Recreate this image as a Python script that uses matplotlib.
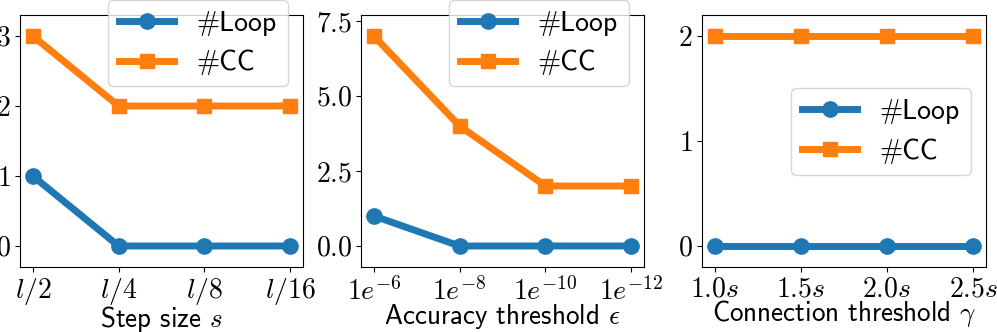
import matplotlib
matplotlib.use("Agg")
import matplotlib.pyplot as plt
from matplotlib.ticker import FixedLocator, FixedFormatter

plt.rcParams['font.family'] = ['cmss10', 'DejaVu Sans']
plt.rcParams['mathtext.fontset'] = 'cm'
plt.rcParams['axes.unicode_minus'] = False

# data
step_labels = [r'$l/2$', r'$l/4$', r'$l/8$', r'$l/16$']
step_loop = [1, 0, 0, 0]
step_cc = [3, 2, 2, 2]

acc_labels = [r'$1e^{-6}$', r'$1e^{-8}$', r'$1e^{-10}$', r'$1e^{-12}$']
acc_loop = [1, 0, 0, 0]
acc_cc = [7, 4, 2, 2]

conn_labels = [r'$1.0s$', r'$1.5s$', r'$2.0s$', r'$2.5s$']
conn_loop = [0, 0, 0, 0]
conn_cc = [2, 2, 2, 2]

panels = [
    (step_labels, step_loop, step_cc, r'Step size $s$', [0, 1, 2, 3], ['$0$', '$1$', '$2$', '$3$'], (0.947, 1.06)),
    (acc_labels, acc_loop, acc_cc, r'Accuracy threshold $\epsilon$', [0, 2.5, 5, 7.5], ['$0.0$', '$2.5$', '$5.0$', '$7.5$'], (0.947, 1.06)),
    (conn_labels, conn_loop, conn_cc, r'Connection threshold $\gamma$', [0, 1, 2], ['$0$', '$1$', '$2$'], (0.947, 0.71)),
]

W, H = 997, 332
fig = plt.figure(figsize=(W / 100, H / 100), dpi=100)
lefts = [20, 361, 702]
rights = [303, 644, 986]
top, bottom = 15, 267

for i, (labels, loop, cc, xlabel, yt, ytl, anchor) in enumerate(panels):
    ax = fig.add_axes([lefts[i] / W, 1 - bottom / H, (rights[i] - lefts[i]) / W, (bottom - top) / H])
    x = list(range(len(labels)))
    ax.plot(x, loop, color='#1f77b4', lw=5, marker='o', markersize=11, label='#Loop')
    ax.plot(x, cc, color='#ff7f0e', lw=5, marker='s', markersize=10, label='#CC')
    ax.margins(x=0.05, y=0.1)
    ax.xaxis.set_major_locator(FixedLocator(x))
    ax.xaxis.set_major_formatter(FixedFormatter(labels))
    ax.yaxis.set_major_locator(FixedLocator(yt))
    ax.yaxis.set_major_formatter(FixedFormatter(ytl))
    ax.tick_params(labelsize=20, pad=3)
    ax.set_xlabel(xlabel, fontsize=19.5, labelpad=-2)
    ax.legend(loc='upper right', bbox_to_anchor=anchor, borderaxespad=0, fontsize=20)

fig.savefig('out.png', dpi=100)
